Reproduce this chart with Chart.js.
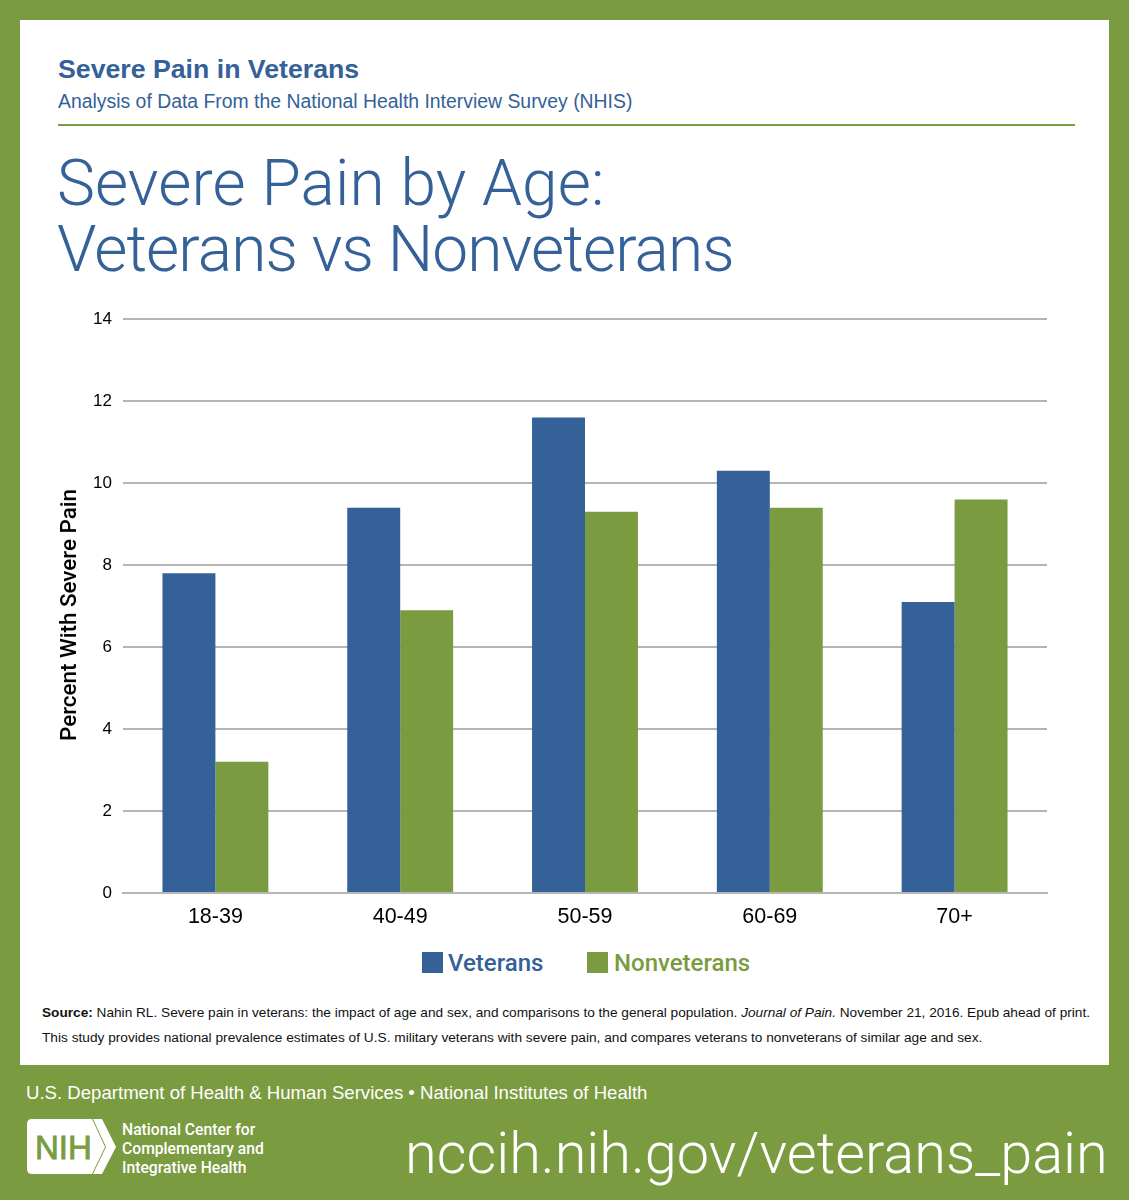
<!DOCTYPE html>
<html>
<head>
<meta charset="utf-8">
<script src="https://cdn.jsdelivr.net/npm/chart.js@4.4.0/dist/chart.umd.min.js"></script>
<style>
  html, body { margin: 0; padding: 0; }
  body { width: 1129px; height: 1200px; background: #7a9b3f; position: relative; overflow: hidden; font-family: "Liberation Sans", Arial, sans-serif; }
  .panel { position: absolute; left: 20px; top: 20px; width: 1089px; height: 1045px; background: #fff; }
  .abs { position: absolute; white-space: nowrap; }
  .rule { position: absolute; left: 58px; top: 124px; width: 1017px; height: 2px; background: #7a9b3f; }
  .light { font-family: Roboto, "Liberation Sans", sans-serif; font-weight: 300; }
  .medium { font-family: Roboto, "Liberation Sans", sans-serif; font-weight: 500; }
  .key { position: absolute; top: 952px; width: 21px; height: 21px; }
  #chartBox { position: absolute; left: 40px; top: 298px; width: 1030px; height: 643px; }
  #yTitle { left: 68px; top: 615px; transform: translate(-50%, -50%) rotate(-90deg); font-size: 22.4px; color: #000; }
</style>
</head>
<body>
<div class="panel"></div>
<div class="abs" style="left:58px;top:54px;font-size:26.7px;font-weight:bold;color:#336198;">Severe Pain in Veterans</div>
<div class="abs" style="left:58px;top:90px;font-size:19.4px;color:#336198;">Analysis of Data From the National Health Interview Survey (NHIS)</div>
<div class="rule"></div>
<div class="abs light" style="left:57px;top:151px;font-size:64px;line-height:66px;letter-spacing:-0.9px;color:#336198;"><span style="letter-spacing:0.1px;">Severe Pain by Age:</span><br>Veterans vs Nonveterans</div>
<div id="chartBox"><canvas id="chart"></canvas></div>
<div id="yTitle" class="abs medium">Percent With Severe Pain</div>
<div class="key" style="left:422px;background:#336198;"></div>
<div class="abs medium" style="left:448px;top:949px;font-size:24px;color:#336198;">Veterans</div>
<div class="key" style="left:587px;background:#7a9b3f;"></div>
<div class="abs medium" style="left:614px;top:949px;font-size:24px;color:#7a9b3f;">Nonveterans</div>
<div class="abs" style="left:42px;top:1005px;font-size:13.65px;color:#111;"><b>Source:</b> Nahin RL. Severe pain in veterans: the impact of age and sex, and comparisons to the general population. <i>Journal of Pain.</i> November 21, 2016. Epub ahead of print.</div>
<div class="abs" style="left:42px;top:1030px;font-size:13.7px;color:#111;">This study provides national prevalence estimates of U.S. military veterans with severe pain, and compares veterans to nonveterans of similar age and sex.</div>
<div class="abs" style="left:26px;top:1082px;font-size:18.6px;color:#fff;">U.S. Department of Health &amp; Human Services &bull; National Institutes of Health</div>
<svg class="abs" style="left:27px;top:1119px;" width="90" height="56" viewBox="0 0 90 56">
  <path d="M5 0H65L78 28L65 55H5Q0 55 0 50V5Q0 0 5 0Z" fill="#fff"/>
  <path d="M66 0H75L89 28L75 55H66L79 28Z" fill="#fff"/>
  <text x="8" y="40" font-family="Liberation Sans" font-size="33" stroke="#7a9b3f" stroke-width="0.9" fill="#7a9b3f">NIH</text>
</svg>
<div class="abs medium" style="left:122px;top:1120px;font-size:15.7px;line-height:19px;color:#fff;">National Center for<br>Complementary and<br>Integrative Health</div>
<div class="abs light" style="left:405px;top:1119px;font-size:57.7px;color:#fff;">nccih.nih.gov/veterans_pain</div>
<script>
const categories = ['18-39', '40-49', '50-59', '60-69', '70+']
const veterans = [7.8, 9.4, 11.6, 10.3, 7.1]
const nonveterans = [3.2, 6.9, 9.3, 9.4, 9.6]
const yTicks = [0, 2, 4, 6, 8, 10, 12, 14]

new Chart(document.getElementById('chart'), {
  type: 'bar',
  data: {
    labels: categories,
    datasets: [
      { label: 'Veterans', data: veterans, backgroundColor: '#336198' },
      { label: 'Nonveterans', data: nonveterans, backgroundColor: '#7a9b3f' }
    ]
  },
  options: {
    responsive: true,
    maintainAspectRatio: false,
    animation: false,
    datasets: { bar: { categoryPercentage: 0.573, barPercentage: 1 } },
    layout: { padding: { top: 17, right: 23, left: 0, bottom: 0 } },
    plugins: {
      legend: { display: false },
      tooltip: { enabled: false }
    },
    scales: {
      x: {
        grid: { display: false },
        border: { color: '#b5b5b5', width: 2 },
        afterFit: axis => { axis.height = 48 },
        ticks: { color: '#000', padding: 3, font: { family: '"Liberation Sans"', size: 21.5 } }
      },
      y: {
        min: 0,
        max: 14,
        afterBuildTicks: axis => { axis.ticks = yTicks.map(v => ({ value: v })) },
        afterFit: axis => { axis.width = 83 },
        grid: { color: '#b5b5b5', lineWidth: 2, drawTicks: false },
        border: { display: false },
        ticks: { color: '#000', padding: 11, font: { family: '"Liberation Sans"', size: 17 } }
      }
    }
  }
})
</script>
</body>
</html>
